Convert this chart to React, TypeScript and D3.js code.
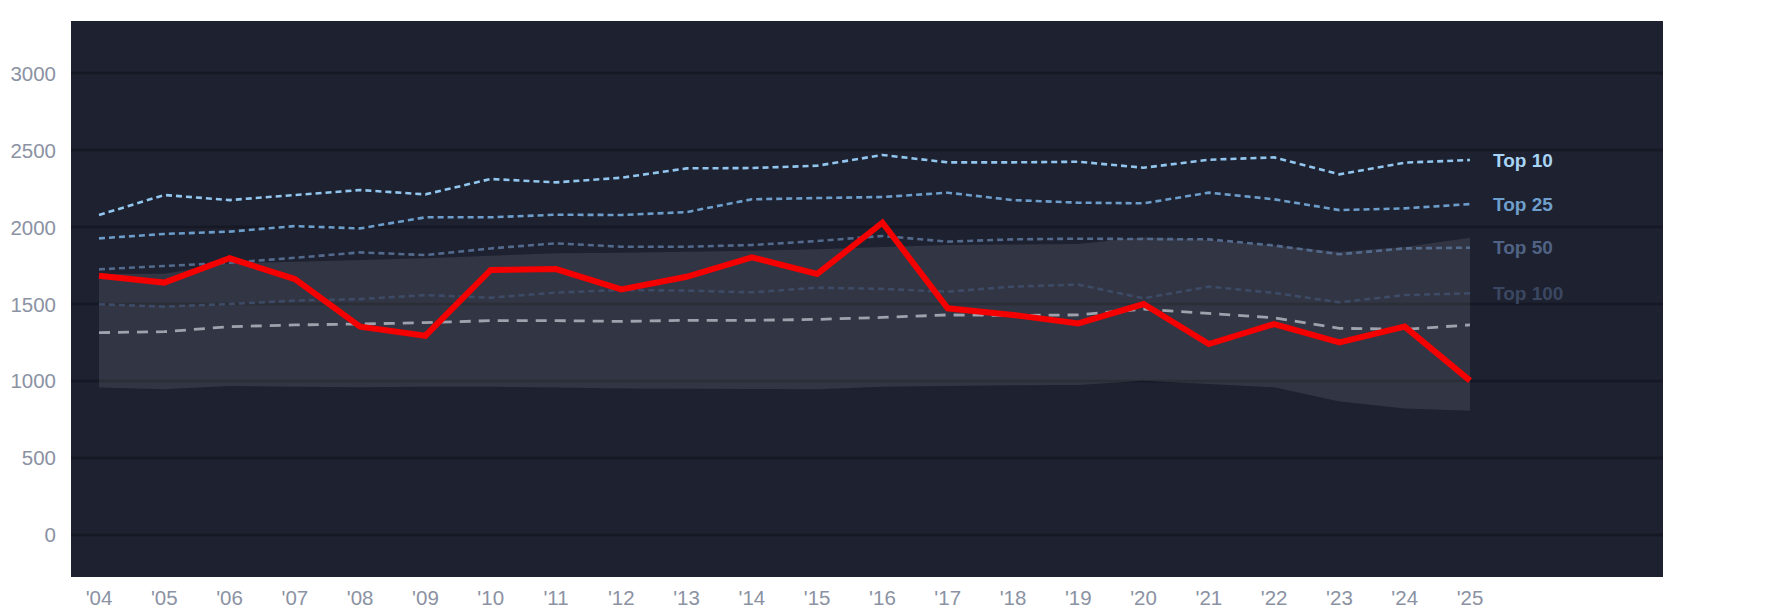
import * as d3 from 'd3';

const years = ['04', '05', '06', '07', '08', '09', '10', '11', '12', '13', '14', '15', '16', '17', '18', '19', '20', '21', '22', '23', '24', '25'];
const yTicks = [0, 500, 1000, 1500, 2000, 2500, 3000];

const mainSeries = [1684, 1639, 1797, 1662, 1353, 1294, 1721, 1727, 1595, 1677, 1803, 1695, 2028, 1472, 1429, 1374, 1500, 1240, 1370, 1251, 1353, 1002];
const top10 = [2078, 2208, 2175, 2208, 2240, 2212, 2312, 2290, 2320, 2381, 2383, 2398, 2468, 2420, 2420, 2424, 2385, 2437, 2452, 2342, 2418, 2435];
const top25 = [1926, 1955, 1970, 2006, 1991, 2063, 2063, 2080, 2078, 2097, 2180, 2188, 2195, 2223, 2175, 2158, 2154, 2223, 2180, 2110, 2121, 2149];
const top50 = [1725, 1747, 1768, 1800, 1835, 1818, 1861, 1894, 1872, 1872, 1883, 1909, 1942, 1905, 1920, 1924, 1922, 1920, 1880, 1823, 1861, 1866];
const top100 = [1498, 1483, 1500, 1522, 1532, 1558, 1541, 1574, 1591, 1587, 1576, 1606, 1598, 1580, 1613, 1626, 1537, 1613, 1572, 1511, 1558, 1569];
const median = [1314, 1320, 1353, 1364, 1370, 1379, 1392, 1392, 1387, 1394, 1394, 1400, 1413, 1429, 1426, 1429, 1467, 1439, 1410, 1342, 1336, 1364];
const bandHigh = [1695, 1697, 1764, 1775, 1786, 1797, 1814, 1829, 1833, 1840, 1846, 1855, 1870, 1883, 1887, 1890, 1933, 1916, 1880, 1840, 1870, 1930];
const bandLow = [957, 946, 968, 963, 959, 963, 963, 957, 952, 950, 948, 946, 963, 968, 972, 974, 1002, 981, 959, 866, 822, 807];

const tiers = [
  { name: 'Top 10', values: top10, line: '#93c6ee', label: '#a8d4f6' },
  { name: 'Top 25', values: top25, line: '#6d9dca', label: '#6f9fcc' },
  { name: 'Top 50', values: top50, line: '#536a8c', label: '#506384' },
  { name: 'Top 100', values: top100, line: '#3d4b66', label: '#3b4761' },
];

const W = 1785;
const H = 614;
const plot = { left: 71, right: 1663, top: 21, bottom: 577 };
const font = '"Liberation Sans", Arial, sans-serif';

export default function App() {
  const x = d3.scalePoint<string>().domain(years).range([99, 1470]);
  const y = d3.scaleLinear().domain([-273, 3338]).range([plot.bottom, plot.top]);

  const line = d3
    .line<number>()
    .x((_, i) => x(years[i]) as number)
    .y((d) => y(d));

  const band = d3
    .area<number>()
    .x((_, i) => x(years[i]) as number)
    .y0((_, i) => y(bandLow[i]))
    .y1((d) => y(d));

  return (
    <svg width={W} height={H} style={{ position: 'absolute', left: 0, top: 0, background: '#fff' }}>
      <rect
        x={plot.left}
        y={plot.top}
        width={plot.right - plot.left}
        height={plot.bottom - plot.top}
        fill="#1d2130"
      />
      {yTicks.map((t) => (
        <g key={t}>
          <line x1={plot.left} x2={plot.right} y1={y(t)} y2={y(t)} stroke="#161923" strokeWidth={2.5} />
          <text
            x={56}
            y={y(t)}
            textAnchor="end"
            dominantBaseline="central"
            fill="#8b92a3"
            fontSize={20.5}
            fontFamily={font}
          >
            {t}
          </text>
        </g>
      ))}

      <path d={band(bandHigh) || ''} fill="#ffffff" fillOpacity={0.095} />

      {tiers.map((t) => (
        <path
          key={t.name}
          d={line(t.values) || ''}
          fill="none"
          stroke={t.line}
          strokeWidth={2.6}
          strokeDasharray="6 4"
        />
      ))}
      <path d={line(median) || ''} fill="none" stroke="#9ea2ac" strokeWidth={2.8} strokeDasharray="11 8" />
      <path d={line(mainSeries) || ''} fill="none" stroke="#f50000" strokeWidth={6} strokeLinejoin="miter" />

      {tiers.map((t) => (
        <text
          key={t.name}
          x={1493}
          y={y(t.values[t.values.length - 1])}
          dominantBaseline="central"
          fill={t.label}
          fontSize={19}
          fontWeight="bold"
          fontFamily={font}
        >
          {t.name}
        </text>
      ))}

      {years.map((yr) => (
        <text
          key={yr}
          x={x(yr)}
          y={605}
          textAnchor="middle"
          fill="#8b92a3"
          fontSize={20.5}
          fontFamily={font}
        >
          {`'${yr}`}
        </text>
      ))}
    </svg>
  );
}
